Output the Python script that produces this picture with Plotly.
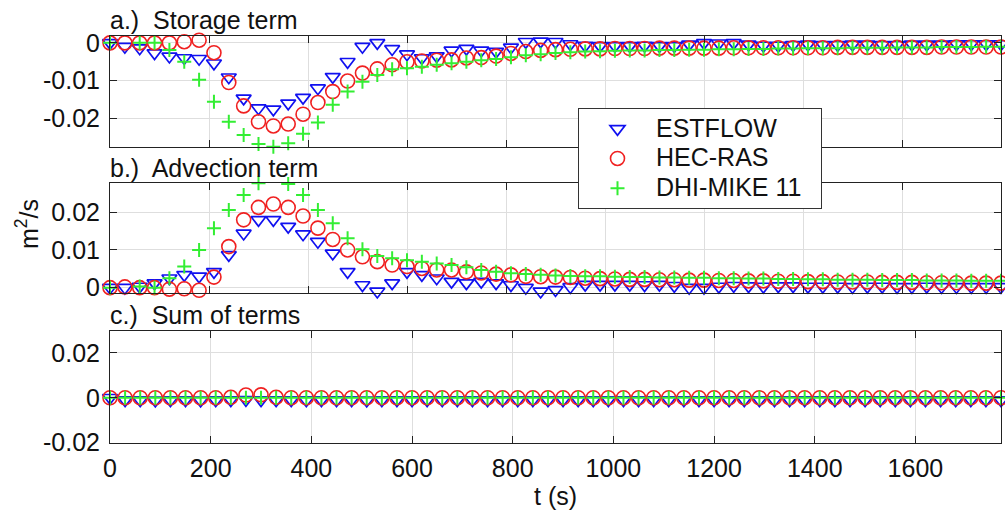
import plotly.graph_objects as go

# ---------------- data ----------------
t_s = [0, 30, 60, 90, 120, 150, 180, 210, 240, 270, 300, 330, 360, 390, 420, 450, 480, 510,
       540, 570, 600, 630, 660, 690, 720, 750, 780, 810, 840, 870, 900, 930, 960, 990, 1020,
       1050, 1080, 1110, 1140, 1170, 1200, 1230, 1260, 1290, 1320, 1350, 1380, 1410, 1440,
       1470, 1500, 1530, 1560, 1590, 1620, 1650, 1680, 1710, 1740, 1770, 1800]

series_names = ["ESTFLOW", "HEC-RAS", "DHI-MIKE 11"]

# a.) Storage term
storage_estflow = [0, -0.001, -0.0014, -0.0027, -0.0036, -0.0040, -0.0042, -0.0054, -0.0091, -0.0147,
                   -0.0173, -0.0176, -0.0160, -0.0145, -0.0120, -0.0090, -0.0050, -0.0010, 0.0,
                   -0.0016, -0.0030, -0.0040, -0.0035, -0.0020, -0.0015, -0.0020, -0.0023, -0.0012,
                   0.0003, 0.0004, 0.0003, -0.0003, -0.0007, -0.0008, -0.0008, -0.0008, -0.0007,
                   -0.0008, -0.0008, -0.0004, 0.0, -0.0001, 0.0, -0.0004, -0.0007, -0.0007, -0.0005,
                   -0.0004, -0.0005, -0.0005, -0.0004, -0.0004, -0.0005, -0.0005, -0.0004, -0.0004,
                   -0.0004, -0.0003, -0.0003, -0.0003, -0.0003]
storage_hecras = [0, 0, 0, 0, 0, 0.0003, 0.0007, -0.0026, -0.0105, -0.0167, -0.0209, -0.0220, -0.0215,
                  -0.0189, -0.0158, -0.0129, -0.0101, -0.0080, -0.0069, -0.0058, -0.0050, -0.0048,
                  -0.0046, -0.0045, -0.0040, -0.0039, -0.0035, -0.0028, -0.0023, -0.0020, -0.0018,
                  -0.0017, -0.0016, -0.0016, -0.0015, -0.0015, -0.0015, -0.0014, -0.0014, -0.0014,
                  -0.0014, -0.0014, -0.0013, -0.0013, -0.0013, -0.0013, -0.0013, -0.0013, -0.0013,
                  -0.0012, -0.0012, -0.0012, -0.0012, -0.0012, -0.0012, -0.0012, -0.0011, -0.0011,
                  -0.0011, -0.0011, -0.0011]
storage_mike = [0, 0.0020, 0, 0, -0.0019, -0.0050, -0.0098, -0.0156, -0.0209, -0.0244, -0.0268, -0.0275,
                -0.0266, -0.0241, -0.0211, -0.0164, -0.0129, -0.0103, -0.0085, -0.0070, -0.0067,
                -0.0063, -0.0058, -0.0054, -0.0050, -0.0046, -0.0043, -0.0038, -0.0033, -0.0030,
                -0.0027, -0.0025, -0.0023, -0.0022, -0.0021, -0.0020, -0.0020, -0.0019, -0.0019,
                -0.0018, -0.0018, -0.0017, -0.0017, -0.0016, -0.0016, -0.0015, -0.0015, -0.0014,
                -0.0014, -0.0014, -0.0013, -0.0013, -0.0013, -0.0012, -0.0012, -0.0012, -0.0011,
                -0.0011, -0.0011, -0.0010, -0.0010]

# b.) Advection term
advection_estflow = [0, 0, 0.0003, 0.0012, 0.0025, 0.0034, 0.0030, 0.0042, 0.0087, 0.0144, 0.0180,
                     0.0180, 0.0162, 0.0142, 0.0122, 0.0091, 0.0042, 0.0007, -0.0010, 0.0012, 0.0042,
                     0.0034, 0.0025, 0.0016, 0.0012, 0.0016, 0.0012, 0.0007, 0.0, -0.0010, -0.0006,
                     0.0002, 0.0008, 0.0008, 0.0008, 0.0008, 0.0007, 0.0008, 0.0005, 0.0, 0.0,
                     0.0003, 0.0005, 0.0004, 0.0003, 0.0004, 0.0004, 0.0003, 0.0003, 0.0003, 0.0002,
                     0.0003, 0.0003, 0.0002, 0.0002, 0.0003, 0.0002, 0.0002, 0.0002, 0.0002, 0.0002]
advection_hecras = [0, 0.0002, 0, 0, -0.0004, -0.0003, -0.0007, 0.0028, 0.0109, 0.0180, 0.0213, 0.0222,
                    0.0213, 0.0190, 0.0158, 0.0128, 0.0100, 0.0082, 0.0069, 0.0060, 0.0056, 0.0051,
                    0.0047, 0.0047, 0.0042, 0.0039, 0.0036, 0.0034, 0.0030, 0.0029, 0.0028, 0.0027,
                    0.0025, 0.0024, 0.0023, 0.0022, 0.0022, 0.0021, 0.0021, 0.0020, 0.0020, 0.0019,
                    0.0019, 0.0018, 0.0018, 0.0017, 0.0017, 0.0016, 0.0016, 0.0015, 0.0015, 0.0015,
                    0.0014, 0.0014, 0.0014, 0.0013, 0.0013, 0.0013, 0.0012, 0.0012, 0.0012]
advection_mike = [0, -0.0024, 0.0003, 0, 0.0025, 0.0056, 0.0100, 0.0158, 0.0206, 0.0246, 0.0277, 0.0281,
                  0.0275, 0.0246, 0.0206, 0.0171, 0.0131, 0.0102, 0.0084, 0.0078, 0.0073, 0.0069,
                  0.0064, 0.0060, 0.0054, 0.0047, 0.0042, 0.0038, 0.0036, 0.0034, 0.0032, 0.0031,
                  0.0030, 0.0030, 0.0029, 0.0028, 0.0028, 0.0027, 0.0027, 0.0026, 0.0026, 0.0025,
                  0.0025, 0.0024, 0.0024, 0.0023, 0.0023, 0.0022, 0.0022, 0.0021, 0.0021, 0.0021,
                  0.0020, 0.0020, 0.0020, 0.0019, 0.0019, 0.0019, 0.0018, 0.0018, 0.0018]

# c.) Sum of terms
sum_estflow = [0, -0.0010, -0.0011, -0.0012, -0.0011, -0.0010, -0.0012, -0.0011, -0.0010, -0.0009,
               -0.0010, -0.0011, -0.0010, -0.0011, -0.0010, -0.0011, -0.0010, -0.0012, -0.0011,
               -0.0010, -0.0011, -0.0010, -0.0011, -0.0010, -0.0010, -0.0011, -0.0010, -0.0011,
               -0.0010, -0.0011, -0.0010, -0.0010, -0.0011, -0.0010, -0.0010, -0.0011, -0.0010,
               -0.0010, -0.0011, -0.0010, -0.0010, -0.0011, -0.0010, -0.0010, -0.0011, -0.0010,
               -0.0010, -0.0011, -0.0010, -0.0010, -0.0011, -0.0010, -0.0010, -0.0011, -0.0010,
               -0.0010, -0.0011, -0.0010, -0.0010, -0.0011, -0.0010]
sum_hecras = [0, 0, 0, 0, 0, 0, 0, 0, 0.0002, 0.0012, 0.0013, 0.0002, 0, 0, 0, 0, 0, 0, 0, 0, 0, 0, 0,
              0, 0, 0, 0, 0, 0, 0, 0, 0, 0, 0, 0, 0, 0, 0, 0, 0, 0, 0, 0, 0, 0, 0, 0, 0, 0, 0, 0, 0,
              0, 0, 0, 0, 0, 0, 0, 0, 0]
sum_mike = [0] * 61

# axis ticks
x_tick_vals = [0, 200, 400, 600, 800, 1000, 1200, 1400, 1600]
x_tick_text = ["0", "200", "400", "600", "800", "1000", "1200", "1400", "1600"]
ya_tick_vals = [-0.02, -0.01, 0]
ya_tick_text = ["-0.02", "-0.01", "0"]
yb_tick_vals = [0, 0.01, 0.02]
yb_tick_text = ["0", "0.01", "0.02"]
yc_tick_vals = [-0.02, 0, 0.02]
yc_tick_text = ["-0.02", "0", "0.02"]

# ---------------- styling ----------------
W, H = 1005, 516
FONT = "Liberation Sans, Arial, Helvetica, sans-serif"
FS = 25
colors = ["#1010f0", "#f02020", "#33ee33"]
symbols = ["triangle-down-open", "circle-open", "cross-thin-open"]
sizes = [13, 14, 10]
lwidths = [1.7, 1.6, 2.0]


def px_x(p):
    return p / W


def px_y(p):
    return 1 - p / H


x0, x1 = 110, 1001
panels = [
    ("x", "y", (35.7, 146.7), [storage_estflow, storage_hecras, storage_mike]),
    ("x2", "y2", (183.3, 293.3), [advection_estflow, advection_hecras, advection_mike]),
    ("x3", "y3", (331.0, 442.7), [sum_estflow, sum_hecras, sum_mike]),
]

fig = go.Figure()
for pi, (xa, ya, _, data) in enumerate(panels):
    for si in range(3):
        fig.add_trace(go.Scatter(
            x=t_s, y=data[si], xaxis=xa, yaxis=ya, mode="markers",
            name=f"<span style='font-size:{FS}px'>{series_names[si]}\u00a0\u00a0</span>",
            legendgroup=series_names[si], showlegend=(pi == 0),
            cliponaxis=False,
            marker=dict(symbol=symbols[si], size=sizes[si], color=colors[si],
                        line=dict(color=colors[si], width=lwidths[si])),
        ))

common_axis = dict(
    showline=True, linecolor="#222", linewidth=1, mirror="ticks",
    ticks="inside", ticklen=7, tickcolor="#222", tickwidth=1,
    showgrid=True, gridcolor="#dedede", gridwidth=1, zeroline=False,
    automargin=False,
    tickfont=dict(family=FONT, size=FS, color="#111"),
)

layout = dict(
    width=W, height=H, margin=dict(l=0, r=0, t=0, b=0),
    paper_bgcolor="white", plot_bgcolor="white",
    font=dict(family=FONT, size=FS, color="#111"),
    legend=dict(x=px_x(578), y=px_y(108), xanchor="left", yanchor="top",
                bgcolor="white", bordercolor="#333", borderwidth=1,
                font=dict(family=FONT, size=20.5, color="#111"),
                itemwidth=67, tracegroupgap=0),
)

ranges_x = [[0, 1800], [0, 1800], [0, 1770]]
ranges_y = [[-0.0275, 0.0019], [-0.0015, 0.0277], [-0.02, 0.0297]]
yticks = [(ya_tick_vals, ya_tick_text), (yb_tick_vals, yb_tick_text), (yc_tick_vals, yc_tick_text)]

for i, (xa, ya, (ytop, ybot), _) in enumerate(panels):
    xkey = "xaxis" if i == 0 else f"xaxis{i+1}"
    ykey = "yaxis" if i == 0 else f"yaxis{i+1}"
    xd = dict(common_axis, domain=[px_x(x0), px_x(x1)], range=ranges_x[i], anchor=ya,
              tickvals=x_tick_vals, ticktext=x_tick_text, showticklabels=(i == 2),
              ticklabelstandoff=3)
    yd = dict(common_axis, domain=[px_y(ybot), px_y(ytop)], range=ranges_y[i], anchor=xa,
              tickvals=yticks[i][0], ticktext=yticks[i][1], ticklabelstandoff=4)
    layout[xkey] = xd
    layout[ykey] = yd

fig.update_layout(**layout)

sp = "\u00a0 "
titles = [("a.)" + sp + "Storage term", 20), ("b.)" + sp + "Advection term", 168),
          ("c.)" + sp + "Sum of terms", 315)]
for txt, yc in titles:
    fig.add_annotation(x=px_x(108), y=px_y(yc), xref="paper", yref="paper", text=txt,
                       showarrow=False, xanchor="left", yanchor="middle",
                       font=dict(family=FONT, size=FS, color="#111"))

fig.add_annotation(x=px_x(27), y=px_y(224), xref="paper", yref="paper",
                   text="m<sup>2</sup>/s", textangle=-90, showarrow=False,
                   xanchor="center", yanchor="middle",
                   font=dict(family=FONT, size=FS, color="#111"))

fig.add_annotation(x=px_x(555.5), y=px_y(496), xref="paper", yref="paper",
                   text="t (s)", showarrow=False, xanchor="center", yanchor="middle",
                   font=dict(family=FONT, size=FS, color="#111"))

fig.write_html("out.html", config={"displayModeBar": False},
               post_script="document.body.style.margin='0px';")
